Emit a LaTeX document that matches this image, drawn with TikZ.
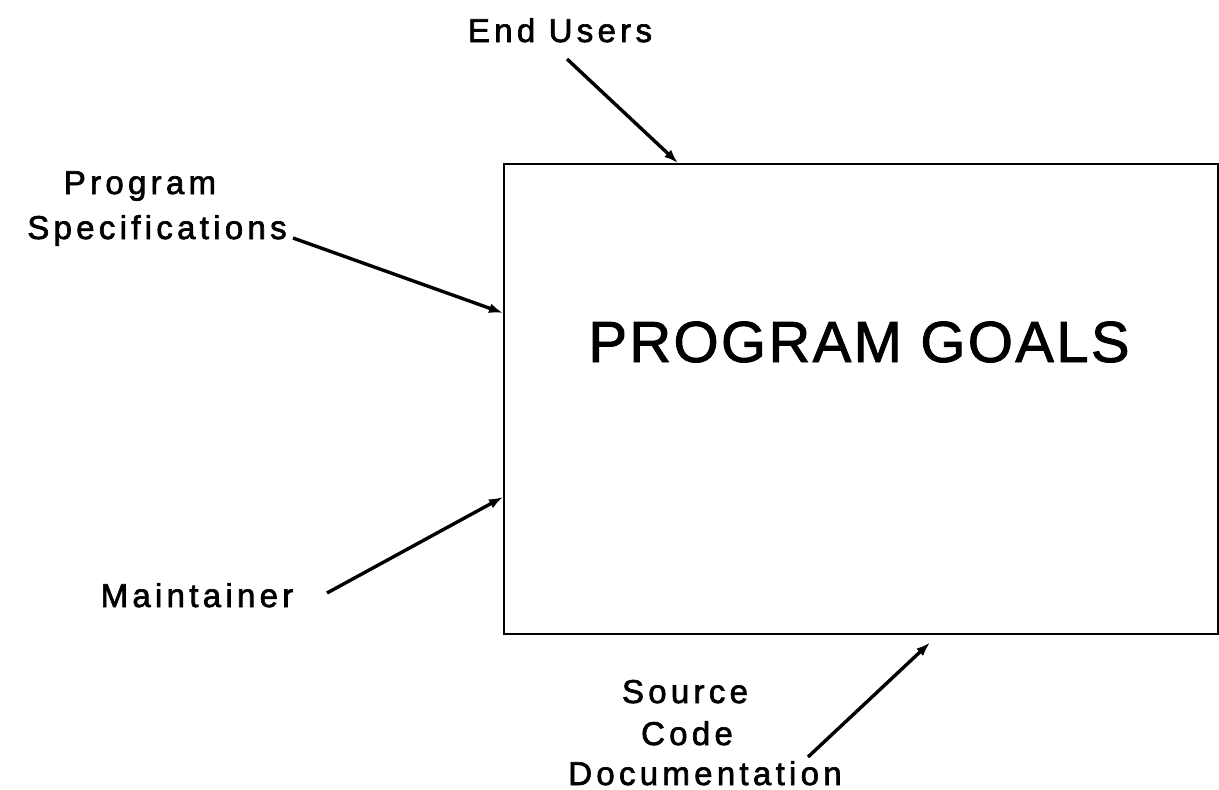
\documentclass[tikz,border=0pt]{standalone}
\usepackage{fontspec}
\setmainfont{Liberation Sans}
\newfontfamily\lblfont[LetterSpace=13,FakeBold=2]{Liberation Sans}
\newfontfamily\ttlfont[LetterSpace=4,FakeBold=1.5]{Liberation Sans}
\usetikzlibrary{arrows.meta}
\begin{document}
\begin{tikzpicture}[x=1pt,y=-1pt,
  lbl/.style={font=\lblfont\fontsize{33}{40}\selectfont, inner sep=0pt, anchor=base},
  conn/.style={line width=3.4pt, -{Latex[length=14pt,width=10pt]}},
  goalbox/.style={draw, line width=1.6pt, anchor=north west, inner sep=0pt}
]
\useasboundingbox (0,0) rectangle (1219,790);
\fill[white] (0,0) rectangle (1219,790);

\node[goalbox, minimum width=714pt, minimum height=470pt] (box) at (503,163) {};
\node[font=\ttlfont\fontsize{58}{60}\selectfont, inner sep=0pt, anchor=base] (title) at (859,362) {PROGRAM GOALS};

\node[lbl] (eu) at (560,42) {End Users};
\node[lbl] (prog) at (140,194) {Program};
\node[lbl] (spec) at (157,239) {Specifications};
\node[lbl] (mnt) at (197,607) {Maintainer};
\node[lbl] (src) at (685,703) {Source};
\node[lbl] (code) at (687,745) {Code};
\node[lbl] (doc) at (705,785) {Documentation};

\coordinate (eutail) at (567,59);
\coordinate (spectail) at (293,238);
\coordinate (mnttail) at (327,593);
\coordinate (doctail) at (808,757);

\draw[conn] (eutail) -- ([xshift=175pt]box.north west);
\draw[conn] (spectail) -- ([yshift=-150pt]box.north west);
\draw[conn] (mnttail) -- ([yshift=-334pt]box.north west);
\draw[conn] (doctail) -- ([xshift=427pt,yshift=-8pt]box.south west);
\end{tikzpicture}
\end{document}
